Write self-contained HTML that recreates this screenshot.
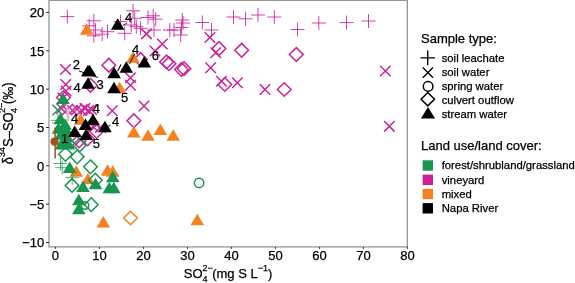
<!DOCTYPE html>
<html><head><meta charset="utf-8"><title>chart</title>
<style>
html,body{margin:0;padding:0;background:#fff;}
svg{display:block;will-change:transform;font-family:"Liberation Sans",sans-serif;}
</style></head><body>
<svg width="575" height="283" viewBox="0 0 575 283">
<rect width="575" height="283" fill="#fff"/>
<path d="M60.3 16.6H74.3M67.3 9.6V23.6" stroke="#cc2299" stroke-opacity="0.9" stroke-width="0.95" fill="none"/>
<path d="M86.8 20.8H100.8M93.8 13.8V27.8" stroke="#cc2299" stroke-opacity="0.9" stroke-width="0.95" fill="none"/>
<path d="M82.2 25.8H96.2M89.2 18.8V32.8" stroke="#cc2299" stroke-opacity="0.9" stroke-width="0.95" fill="none"/>
<path d="M88.5 30.0H102.5M95.5 23.0V37.0" stroke="#cc2299" stroke-opacity="0.9" stroke-width="0.95" fill="none"/>
<path d="M86.8 35.8H100.8M93.8 28.8V42.8" stroke="#cc2299" stroke-opacity="0.9" stroke-width="0.95" fill="none"/>
<path d="M95.2 34.2H109.2M102.2 27.2V41.2" stroke="#cc2299" stroke-opacity="0.9" stroke-width="0.95" fill="none"/>
<path d="M100.5 31.7H114.5M107.5 24.7V38.7" stroke="#cc2299" stroke-opacity="0.9" stroke-width="0.95" fill="none"/>
<path d="M117.7 33.3H131.7M124.7 26.3V40.3" stroke="#cc2299" stroke-opacity="0.9" stroke-width="0.95" fill="none"/>
<path d="M113.5 21.7H127.5M120.5 14.7V28.7" stroke="#cc2299" stroke-opacity="0.9" stroke-width="0.95" fill="none"/>
<path d="M126.0 10.8H140.0M133.0 3.8V17.8" stroke="#cc2299" stroke-opacity="0.9" stroke-width="0.95" fill="none"/>
<path d="M127.7 18.3H141.7M134.7 11.3V25.3" stroke="#cc2299" stroke-opacity="0.9" stroke-width="0.95" fill="none"/>
<path d="M124.3 25.0H138.3M131.3 18.0V32.0" stroke="#cc2299" stroke-opacity="0.9" stroke-width="0.95" fill="none"/>
<path d="M129.3 26.7H143.3M136.3 19.7V33.7" stroke="#cc2299" stroke-opacity="0.9" stroke-width="0.95" fill="none"/>
<path d="M133.5 28.3H147.5M140.5 21.3V35.3" stroke="#cc2299" stroke-opacity="0.9" stroke-width="0.95" fill="none"/>
<path d="M146.2 15.8H160.2M153.2 8.8V22.8" stroke="#cc2299" stroke-opacity="0.9" stroke-width="0.95" fill="none"/>
<path d="M148.7 19.2H162.7M155.7 12.2V26.2" stroke="#cc2299" stroke-opacity="0.9" stroke-width="0.95" fill="none"/>
<path d="M141.0 17.5H155.0M148.0 10.5V24.5" stroke="#cc2299" stroke-opacity="0.9" stroke-width="0.95" fill="none"/>
<path d="M147.0 30.0H161.0M154.0 23.0V37.0" stroke="#cc2299" stroke-opacity="0.9" stroke-width="0.95" fill="none"/>
<path d="M162.8 30.0H176.8M169.8 23.0V37.0" stroke="#cc2299" stroke-opacity="0.9" stroke-width="0.95" fill="none"/>
<path d="M167.0 30.0H181.0M174.0 23.0V37.0" stroke="#cc2299" stroke-opacity="0.9" stroke-width="0.95" fill="none"/>
<path d="M175.3 20.0H189.3M182.3 13.0V27.0" stroke="#cc2299" stroke-opacity="0.9" stroke-width="0.95" fill="none"/>
<path d="M176.0 23.0H190.0M183.0 16.0V30.0" stroke="#cc2299" stroke-opacity="0.9" stroke-width="0.95" fill="none"/>
<path d="M174.5 27.5H188.5M181.5 20.5V34.5" stroke="#cc2299" stroke-opacity="0.9" stroke-width="0.95" fill="none"/>
<path d="M173.7 35.0H187.7M180.7 28.0V42.0" stroke="#cc2299" stroke-opacity="0.9" stroke-width="0.95" fill="none"/>
<path d="M195.3 22.5H209.3M202.3 15.5V29.5" stroke="#cc2299" stroke-opacity="0.9" stroke-width="0.95" fill="none"/>
<path d="M204.5 30.0H218.5M211.5 23.0V37.0" stroke="#cc2299" stroke-opacity="0.9" stroke-width="0.95" fill="none"/>
<path d="M226.5 17.0H240.5M233.5 10.0V24.0" stroke="#cc2299" stroke-opacity="0.9" stroke-width="0.95" fill="none"/>
<path d="M238.5 18.8H252.5M245.5 11.8V25.8" stroke="#cc2299" stroke-opacity="0.9" stroke-width="0.95" fill="none"/>
<path d="M251.0 15.0H265.0M258.0 8.0V22.0" stroke="#cc2299" stroke-opacity="0.9" stroke-width="0.95" fill="none"/>
<path d="M267.3 17.0H281.3M274.3 10.0V24.0" stroke="#cc2299" stroke-opacity="0.9" stroke-width="0.95" fill="none"/>
<path d="M290.5 29.5H304.5M297.5 22.5V36.5" stroke="#cc2299" stroke-opacity="0.9" stroke-width="0.95" fill="none"/>
<path d="M311.8 23.0H325.8M318.8 16.0V30.0" stroke="#cc2299" stroke-opacity="0.9" stroke-width="0.95" fill="none"/>
<path d="M339.5 22.6H353.5M346.5 15.6V29.6" stroke="#cc2299" stroke-opacity="0.9" stroke-width="0.95" fill="none"/>
<path d="M361.5 21.0H375.5M368.5 14.0V28.0" stroke="#cc2299" stroke-opacity="0.9" stroke-width="0.95" fill="none"/>
<path d="M60.2 64.2L70.8 74.8M60.2 74.8L70.8 64.2" stroke="#cc2299" stroke-opacity="1" stroke-width="1.5" fill="none"/>
<path d="M60.5 79.3L71.0 89.8M60.5 89.8L71.0 79.3" stroke="#cc2299" stroke-opacity="1" stroke-width="1.5" fill="none"/>
<path d="M60.8 85.8L71.3 96.2M60.8 96.2L71.3 85.8" stroke="#cc2299" stroke-opacity="1" stroke-width="1.5" fill="none"/>
<path d="M141.2 28.6L151.8 39.1M141.2 39.1L151.8 28.6" stroke="#cc2299" stroke-opacity="1" stroke-width="1.5" fill="none"/>
<path d="M157.1 38.8L167.6 49.2M157.1 49.2L167.6 38.8" stroke="#cc2299" stroke-opacity="1" stroke-width="1.5" fill="none"/>
<path d="M149.8 45.8L160.2 56.2M149.8 56.2L160.2 45.8" stroke="#cc2299" stroke-opacity="1" stroke-width="1.5" fill="none"/>
<path d="M204.6 32.2L215.1 42.8M204.6 42.8L215.1 32.2" stroke="#cc2299" stroke-opacity="1" stroke-width="1.5" fill="none"/>
<path d="M210.4 47.5L220.9 58.0M210.4 58.0L220.9 47.5" stroke="#cc2299" stroke-opacity="1" stroke-width="1.5" fill="none"/>
<path d="M205.4 62.5L215.9 73.0M205.4 73.0L215.9 62.5" stroke="#cc2299" stroke-opacity="1" stroke-width="1.5" fill="none"/>
<path d="M216.2 76.0L226.8 86.5M216.2 86.5L226.8 76.0" stroke="#cc2299" stroke-opacity="1" stroke-width="1.5" fill="none"/>
<path d="M232.1 77.5L242.6 88.0M232.1 88.0L242.6 77.5" stroke="#cc2299" stroke-opacity="1" stroke-width="1.5" fill="none"/>
<path d="M259.8 84.2L270.2 94.8M259.8 94.8L270.2 84.2" stroke="#cc2299" stroke-opacity="1" stroke-width="1.5" fill="none"/>
<path d="M380.1 65.8L390.6 76.2M380.1 76.2L390.6 65.8" stroke="#cc2299" stroke-opacity="1" stroke-width="1.5" fill="none"/>
<path d="M384.1 121.0L394.6 131.6M384.1 131.6L394.6 121.0" stroke="#cc2299" stroke-opacity="1" stroke-width="1.5" fill="none"/>
<path d="M125.2 72.5L135.7 83.0M125.2 83.0L135.7 72.5" stroke="#cc2299" stroke-opacity="1" stroke-width="1.5" fill="none"/>
<path d="M125.2 80.0L135.8 90.5M125.2 90.5L135.8 80.0" stroke="#cc2299" stroke-opacity="1" stroke-width="1.5" fill="none"/>
<path d="M107.0 105.5L117.5 116.0M107.0 116.0L117.5 105.5" stroke="#cc2299" stroke-opacity="1" stroke-width="1.5" fill="none"/>
<path d="M138.8 100.8L149.2 111.2M138.8 111.2L149.2 100.8" stroke="#cc2299" stroke-opacity="1" stroke-width="1.5" fill="none"/>
<path d="M56.2 103.2L66.8 113.8M56.2 113.8L66.8 103.2" stroke="#cc2299" stroke-opacity="1" stroke-width="1.5" fill="none"/>
<path d="M61.8 104.8L72.2 115.2M61.8 115.2L72.2 104.8" stroke="#cc2299" stroke-opacity="1" stroke-width="1.5" fill="none"/>
<path d="M67.2 105.2L77.8 115.8M67.2 115.8L77.8 105.2" stroke="#cc2299" stroke-opacity="1" stroke-width="1.5" fill="none"/>
<path d="M71.8 103.8L82.2 114.2M71.8 114.2L82.2 103.8" stroke="#cc2299" stroke-opacity="1" stroke-width="1.5" fill="none"/>
<path d="M76.2 105.2L86.8 115.8M76.2 115.8L86.8 105.2" stroke="#cc2299" stroke-opacity="1" stroke-width="1.5" fill="none"/>
<path d="M79.8 103.2L90.2 113.8M79.8 113.8L90.2 103.2" stroke="#cc2299" stroke-opacity="1" stroke-width="1.5" fill="none"/>
<path d="M83.2 105.2L93.8 115.8M83.2 115.8L93.8 105.2" stroke="#cc2299" stroke-opacity="1" stroke-width="1.5" fill="none"/>
<path d="M86.2 104.2L96.8 114.8M86.2 114.8L96.8 104.2" stroke="#cc2299" stroke-opacity="1" stroke-width="1.5" fill="none"/>
<path d="M57.8 92.8L68.2 103.2M57.8 103.2L68.2 92.8" stroke="#cc2299" stroke-opacity="1" stroke-width="1.5" fill="none"/>
<path d="M87.8 121.2L98.2 131.8M87.8 131.8L98.2 121.2" stroke="#cc2299" stroke-opacity="1" stroke-width="1.5" fill="none"/>
<path d="M95.2 122.2L105.8 132.8M95.2 132.8L105.8 122.2" stroke="#cc2299" stroke-opacity="1" stroke-width="1.5" fill="none"/>
<path d="M75.2 134.8L85.8 145.2M75.2 145.2L85.8 134.8" stroke="#cc2299" stroke-opacity="1" stroke-width="1.5" fill="none"/>
<path d="M108.8 58.4L115.6 65.3L108.8 72.1L102.0 65.3Z" stroke="#cc2299" stroke-width="1.5" fill="none"/>
<path d="M90.5 78.5L97.3 85.3L90.5 92.1L83.7 85.3Z" stroke="#cc2299" stroke-width="1.5" fill="none"/>
<path d="M140.5 52.6L147.3 59.5L140.5 66.3L133.7 59.5Z" stroke="#cc2299" stroke-width="1.5" fill="none"/>
<path d="M133.8 113.9L140.7 120.7L133.8 127.5L127.0 120.7Z" stroke="#cc2299" stroke-width="1.5" fill="none"/>
<path d="M166.5 55.1L173.3 62.0L166.5 68.8L159.7 62.0Z" stroke="#cc2299" stroke-width="1.5" fill="none"/>
<path d="M169.0 56.9L175.8 63.7L169.0 70.5L162.2 63.7Z" stroke="#cc2299" stroke-width="1.5" fill="none"/>
<path d="M181.5 62.6L188.3 69.5L181.5 76.3L174.7 69.5Z" stroke="#cc2299" stroke-width="1.5" fill="none"/>
<path d="M184.0 61.9L190.8 68.7L184.0 75.5L177.2 68.7Z" stroke="#cc2299" stroke-width="1.5" fill="none"/>
<path d="M219.0 41.6L225.8 48.5L219.0 55.4L212.2 48.5Z" stroke="#cc2299" stroke-width="1.5" fill="none"/>
<path d="M241.7 43.4L248.5 50.3L241.7 57.1L234.8 50.3Z" stroke="#cc2299" stroke-width="1.5" fill="none"/>
<path d="M224.8 77.7L231.7 84.5L224.8 91.3L218.0 84.5Z" stroke="#cc2299" stroke-width="1.5" fill="none"/>
<path d="M296.3 47.6L303.2 54.5L296.3 61.4L289.4 54.5Z" stroke="#cc2299" stroke-width="1.5" fill="none"/>
<path d="M284.2 82.7L291.1 89.5L284.2 96.3L277.3 89.5Z" stroke="#cc2299" stroke-width="1.5" fill="none"/>
<path d="M63.5 90.7L70.3 97.5L63.5 104.3L56.6 97.5Z" stroke="#cc2299" stroke-width="1.5" fill="none"/>
<path d="M96.6 124.7L103.4 131.5L96.6 138.3L89.8 131.5Z" stroke="#cc2299" stroke-width="1.5" fill="none"/>
<path d="M79.0 134.2L85.8 141.0L79.0 147.8L72.2 141.0Z" stroke="#cc2299" stroke-width="1.5" fill="none"/>
<path d="M87.5 132.2L94.3 139.0L87.5 145.8L80.7 139.0Z" stroke="#cc2299" stroke-width="1.5" fill="none"/>
<rect x="66.5" y="108.5" width="3.0" height="13" fill="#c8c8c8"/>
<path d="M86.8 23.2L93.6 34.8H80.0Z" fill="#f58220"/>
<path d="M133.0 51.2L139.8 62.8H126.2Z" fill="#f58220"/>
<path d="M119.6 81.8L126.4 93.3H112.8Z" fill="#f58220"/>
<path d="M80.5 113.2L87.3 124.8H73.7Z" fill="#f58220"/>
<path d="M133.8 126.1L140.6 137.6H127.0Z" fill="#f58220"/>
<path d="M160.3 123.6L167.1 135.1H153.5Z" fill="#f58220"/>
<path d="M148.0 129.3L154.8 140.8H141.2Z" fill="#f58220"/>
<path d="M173.2 129.3L180.0 140.8H166.4Z" fill="#f58220"/>
<path d="M76.3 165.2L83.1 176.8H69.5Z" fill="#f58220"/>
<path d="M88.0 172.8L94.8 184.2H81.2Z" fill="#f58220"/>
<path d="M107.6 164.2L114.4 175.8H100.8Z" fill="#f58220"/>
<path d="M112.7 165.2L119.5 176.8H105.9Z" fill="#f58220"/>
<path d="M103.3 216.1L110.1 227.6H96.5Z" fill="#f58220"/>
<path d="M197.3 213.8L204.1 225.2H190.5Z" fill="#f58220"/>
<path d="M130.5 211.2L137.3 218.0L130.5 224.8L123.7 218.0Z" stroke="#f58220" stroke-width="1.5" fill="none"/>
<path d="M53.5 163.5H67.5M60.5 156.5V170.5" stroke="#189550" stroke-opacity="0.8" stroke-width="0.95" fill="none"/>
<path d="M55.2 167.7H69.2M62.2 160.7V174.7" stroke="#189550" stroke-opacity="0.8" stroke-width="0.95" fill="none"/>
<path d="M65.2 177.7H79.2M72.2 170.7V184.7" stroke="#189550" stroke-opacity="0.8" stroke-width="0.95" fill="none"/>
<path d="M51.0 120.4H65.0M58.0 113.4V127.4" stroke="#189550" stroke-opacity="0.8" stroke-width="0.95" fill="none"/>
<path d="M52.0 122.9H66.0M59.0 115.9V129.9" stroke="#189550" stroke-opacity="0.8" stroke-width="0.95" fill="none"/>
<path d="M52.5 104.8L63.0 115.2M52.5 115.2L63.0 104.8" stroke="#189550" stroke-opacity="1" stroke-width="1.5" fill="none"/>
<path d="M65.5 147.5L72.3 154.3L65.5 161.2L58.6 154.3Z" stroke="#189550" stroke-width="1.5" fill="none"/>
<path d="M77.2 150.0L84.0 156.8L77.2 163.7L70.4 156.8Z" stroke="#189550" stroke-width="1.5" fill="none"/>
<path d="M90.5 160.0L97.3 166.8L90.5 173.7L83.7 166.8Z" stroke="#189550" stroke-width="1.5" fill="none"/>
<path d="M95.3 173.3L102.1 180.2L95.3 187.0L88.5 180.2Z" stroke="#189550" stroke-width="1.5" fill="none"/>
<path d="M72.0 178.6L78.8 185.4L72.0 192.2L65.2 185.4Z" stroke="#189550" stroke-width="1.5" fill="none"/>
<path d="M79.7 138.2L86.5 145.0L79.7 151.8L72.9 145.0Z" stroke="#189550" stroke-width="1.5" fill="none"/>
<path d="M91.3 197.8L98.1 204.7L91.3 211.5L84.5 204.7Z" stroke="#189550" stroke-width="1.5" fill="none"/>
<path d="M63.0 92.5L69.8 104.0H56.2Z" fill="#189550"/>
<path d="M60.4 112.7L67.2 124.2H53.6Z" fill="#189550"/>
<path d="M65.0 118.2L71.8 129.8H58.2Z" fill="#189550"/>
<path d="M58.5 122.2L65.3 133.8H51.7Z" fill="#189550"/>
<path d="M66.5 124.2L73.3 135.8H59.7Z" fill="#189550"/>
<path d="M61.0 128.2L67.8 139.8H54.2Z" fill="#189550"/>
<path d="M67.0 130.8L73.8 142.2H60.2Z" fill="#189550"/>
<path d="M61.5 137.9L68.3 149.4H54.7Z" fill="#189550"/>
<path d="M68.5 137.9L75.3 149.4H61.7Z" fill="#189550"/>
<path d="M69.7 161.6L76.5 173.1H62.9Z" fill="#189550"/>
<path d="M83.0 180.4L89.8 191.9H76.2Z" fill="#189550"/>
<path d="M95.5 177.8L102.3 189.2H88.7Z" fill="#189550"/>
<path d="M112.8 170.7L119.6 182.2H106.0Z" fill="#189550"/>
<path d="M109.3 181.8L116.1 193.3H102.5Z" fill="#189550"/>
<path d="M113.8 181.8L120.6 193.3H107.0Z" fill="#189550"/>
<path d="M78.8 193.7L85.6 205.2H72.0Z" fill="#189550"/>
<path d="M78.8 202.8L85.6 214.2H72.0Z" fill="#189550"/>
<circle cx="85.0" cy="205.5" r="3.8" stroke="#189550" stroke-width="1.5" fill="none"/>
<circle cx="199.1" cy="182.9" r="4.7" stroke="#189550" stroke-width="1.5" fill="none"/>
<path d="M117.7 18.2L124.5 29.8H110.9Z" fill="#000000"/>
<path d="M87.9 64.8L94.7 76.3H81.1Z" fill="#000000"/>
<path d="M89.6 64.8L96.4 76.3H82.8Z" fill="#000000"/>
<path d="M88.1 77.2L94.9 88.7H81.3Z" fill="#000000"/>
<path d="M114.1 66.7L120.9 78.2H107.3Z" fill="#000000"/>
<path d="M126.3 61.3L133.1 72.8H119.5Z" fill="#000000"/>
<path d="M114.0 81.7L120.8 93.2H107.2Z" fill="#000000"/>
<path d="M144.3 56.0L151.1 67.5H137.5Z" fill="#000000"/>
<path d="M93.0 113.5L99.8 125.0H86.2Z" fill="#000000"/>
<path d="M85.5 118.5L92.3 129.9H78.7Z" fill="#000000"/>
<path d="M104.9 120.8L111.7 132.3H98.1Z" fill="#000000"/>
<path d="M74.7 125.4L81.5 136.9H67.9Z" fill="#000000"/>
<path d="M86.2 128.4L93.0 139.9H79.4Z" fill="#000000"/>
<rect x="54.4" y="127.5" width="1.5" height="31" fill="#a0521e"/>
<circle cx="54.6" cy="141.7" r="4.1" fill="#a0521e"/>
<rect x="49.0" y="0.3" width="358.3" height="246.6" fill="none" stroke="#8c8c8c" stroke-width="1.2"/>
<path d="M46 12.4H49.0" stroke="#333" stroke-width="1"/>
<text x="44.3" y="17.1" font-size="13" text-anchor="end" stroke="#000" stroke-width="0.25">20</text>
<path d="M46 50.8H49.0" stroke="#333" stroke-width="1"/>
<text x="44.3" y="55.5" font-size="13" text-anchor="end" stroke="#000" stroke-width="0.25">15</text>
<path d="M46 89.1H49.0" stroke="#333" stroke-width="1"/>
<text x="44.3" y="93.8" font-size="13" text-anchor="end" stroke="#000" stroke-width="0.25">10</text>
<path d="M46 127.5H49.0" stroke="#333" stroke-width="1"/>
<text x="44.3" y="132.2" font-size="13" text-anchor="end" stroke="#000" stroke-width="0.25">5</text>
<path d="M46 165.8H49.0" stroke="#333" stroke-width="1"/>
<text x="44.3" y="170.5" font-size="13" text-anchor="end" stroke="#000" stroke-width="0.25">0</text>
<path d="M46 204.2H49.0" stroke="#333" stroke-width="1"/>
<text x="44.3" y="208.8" font-size="13" text-anchor="end" stroke="#000" stroke-width="0.25">−5</text>
<path d="M46 242.5H49.0" stroke="#333" stroke-width="1"/>
<text x="44.3" y="247.2" font-size="13" text-anchor="end" stroke="#000" stroke-width="0.25">−10</text>
<path d="M55.4 246.9V248.9" stroke="#333" stroke-width="1"/>
<text x="55.4" y="259.8" font-size="13" text-anchor="middle" stroke="#000" stroke-width="0.25">0</text>
<path d="M99.4 246.9V248.9" stroke="#333" stroke-width="1"/>
<text x="99.4" y="259.8" font-size="13" text-anchor="middle" stroke="#000" stroke-width="0.25">10</text>
<path d="M143.4 246.9V248.9" stroke="#333" stroke-width="1"/>
<text x="143.4" y="259.8" font-size="13" text-anchor="middle" stroke="#000" stroke-width="0.25">20</text>
<path d="M187.4 246.9V248.9" stroke="#333" stroke-width="1"/>
<text x="187.4" y="259.8" font-size="13" text-anchor="middle" stroke="#000" stroke-width="0.25">30</text>
<path d="M231.4 246.9V248.9" stroke="#333" stroke-width="1"/>
<text x="231.4" y="259.8" font-size="13" text-anchor="middle" stroke="#000" stroke-width="0.25">40</text>
<path d="M275.4 246.9V248.9" stroke="#333" stroke-width="1"/>
<text x="275.4" y="259.8" font-size="13" text-anchor="middle" stroke="#000" stroke-width="0.25">50</text>
<path d="M319.4 246.9V248.9" stroke="#333" stroke-width="1"/>
<text x="319.4" y="259.8" font-size="13" text-anchor="middle" stroke="#000" stroke-width="0.25">60</text>
<path d="M363.4 246.9V248.9" stroke="#333" stroke-width="1"/>
<text x="363.4" y="259.8" font-size="13" text-anchor="middle" stroke="#000" stroke-width="0.25">70</text>
<path d="M407.4 246.9V248.9" stroke="#333" stroke-width="1"/>
<text x="407.4" y="259.8" font-size="13" text-anchor="middle" stroke="#000" stroke-width="0.25">80</text>
<text x="128.5" y="22.2" font-size="13" text-anchor="middle" stroke="#000" stroke-width="0.25">4</text>
<text x="76.3" y="69.3" font-size="13" text-anchor="middle" stroke="#000" stroke-width="0.25">2</text>
<text x="77.2" y="91.8" font-size="13" text-anchor="middle" stroke="#000" stroke-width="0.25">4</text>
<text x="100.0" y="89.0" font-size="13" text-anchor="middle" stroke="#000" stroke-width="0.25">3</text>
<text x="135.5" y="53.5" font-size="13" text-anchor="middle" stroke="#000" stroke-width="0.25">4</text>
<text x="155.3" y="59.7" font-size="13" text-anchor="middle" stroke="#000" stroke-width="0.25">6</text>
<text x="124.7" y="102.2" font-size="13" text-anchor="middle" stroke="#000" stroke-width="0.25">5</text>
<text x="96.3" y="113.0" font-size="13" text-anchor="middle" stroke="#000" stroke-width="0.25">4</text>
<text x="74.7" y="123.0" font-size="13" text-anchor="middle" stroke="#000" stroke-width="0.25">4</text>
<text x="115.5" y="125.5" font-size="13" text-anchor="middle" stroke="#000" stroke-width="0.25">4</text>
<text x="64.7" y="143.0" font-size="13" text-anchor="middle" stroke="#000" stroke-width="0.25">1</text>
<text x="96.3" y="148.0" font-size="13" text-anchor="middle" stroke="#000" stroke-width="0.25">5</text>
<path d="M79.0 71.0L98.0 77.5" stroke="#000000" stroke-width="0.9"/>
<path d="M126.8 23.3L123.0 25.3" stroke="#000000" stroke-width="0.9"/>
<path d="M121.0 64.5L117.6 71.3" stroke="#000000" stroke-width="1.1"/>
<path d="M110.5 125.2L108.0 126.3" stroke="#000000" stroke-width="0.9"/>
<path d="M69.5 136.5L72.5 135.5" stroke="#000000" stroke-width="0.9"/>
<path d="M134.5 54.0L129.5 64.0" stroke="#000000" stroke-width="0.9"/>
<text x="183.8" y="278.3" font-size="13" text-anchor="start" stroke="#000" stroke-width="0.25">SO<tspan font-size="9" dy="3.7">4</tspan><tspan font-size="9" dy="-11" dx="-5">2−</tspan><tspan dy="7.3" dx="-0.7">(mg S L</tspan><tspan font-size="9" dy="-7.3">−1</tspan><tspan dy="7.3">)</tspan></text>
<text transform="translate(12.9,164.2) rotate(-90) scale(1,1.07)" font-size="13" text-anchor="start" stroke="#000" stroke-width="0.25">δ<tspan font-size="9" dy="-7.3">34</tspan><tspan dy="7.3">S–SO</tspan><tspan font-size="9" dy="3.7" dx="-0.8">4</tspan><tspan font-size="9" dy="-11" dx="-5">2−</tspan><tspan dy="7.3" dx="-1.2">(‰)</tspan></text>
<text x="421.0" y="43.0" font-size="13" text-anchor="start" stroke="#000" stroke-width="0.25">Sample type:</text>
<text x="441.7" y="61.7" font-size="11.3" text-anchor="start" stroke="#000" stroke-width="0.25">soil leachate</text>
<text x="441.7" y="75.8" font-size="11.3" text-anchor="start" stroke="#000" stroke-width="0.25">soil water</text>
<text x="441.7" y="89.9" font-size="11.3" text-anchor="start" stroke="#000" stroke-width="0.25">spring water</text>
<text x="441.7" y="104.0" font-size="11.3" text-anchor="start" stroke="#000" stroke-width="0.25">culvert outflow</text>
<text x="441.7" y="118.1" font-size="11.3" text-anchor="start" stroke="#000" stroke-width="0.25">stream water</text>
<path d="M420.4 57.9H435.0M427.7 50.6V65.2" stroke="#000000" stroke-opacity="1" stroke-width="1.4" fill="none"/>
<path d="M422.8 67.5L433.0 77.7M422.8 77.7L433.0 67.5" stroke="#000000" stroke-opacity="1" stroke-width="1.4" fill="none"/>
<circle cx="428.1" cy="86.4" r="4.8" stroke="#000000" stroke-width="1.5" fill="none"/>
<path d="M427.8 92.5L434.5 99.2L427.8 105.9L421.1 99.2Z" stroke="#000000" stroke-width="1.5" fill="none"/>
<path d="M428 106.9L435.1 118.4H420.9Z" fill="#000"/>
<text x="421.0" y="150.0" font-size="13" text-anchor="start" stroke="#000" stroke-width="0.25">Land use/land cover:</text>
<rect x="422.6" y="160.3" width="10.4" height="10.4" fill="#189550"/>
<text x="441.7" y="169.2" font-size="11.3" text-anchor="start" stroke="#000" stroke-width="0.25">forest/shrubland/grassland</text>
<rect x="422.6" y="174.6" width="10.4" height="10.4" fill="#cc2299"/>
<text x="441.7" y="183.5" font-size="11.3" text-anchor="start" stroke="#000" stroke-width="0.25">vineyard</text>
<rect x="422.6" y="188.8" width="10.4" height="10.4" fill="#f58220"/>
<text x="441.7" y="197.7" font-size="11.3" text-anchor="start" stroke="#000" stroke-width="0.25">mixed</text>
<rect x="422.6" y="203.1" width="10.4" height="10.4" fill="#000000"/>
<text x="441.7" y="212.0" font-size="11.3" text-anchor="start" stroke="#000" stroke-width="0.25">Napa River</text>
</svg>
</body></html>
